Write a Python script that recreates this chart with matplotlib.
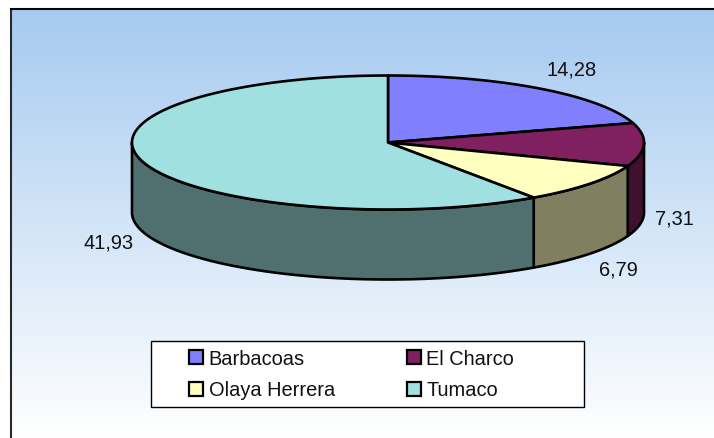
import numpy as np
import matplotlib
matplotlib.use("Agg")
import matplotlib.pyplot as plt
from matplotlib.patches import Polygon, Rectangle

categories = ["Barbacoas", "El Charco", "Olaya Herrera", "Tumaco"]
values = [14.28, 7.31, 6.79, 41.93]
labels = ["14,28", "7,31", "6,79", "41,93"]
top_colors = ["#8080FF", "#802060", "#FFFFC0", "#A0E0E0"]
side_colors = ["#50508F", "#40102F", "#808060", "#507070"]
label_pos = [(571.5, 67.8), (674.5, 216.8), (618.5, 267.8), (108.5, 240.8)]

W, H = 714, 439
plt.rcParams["font.family"] = ["Liberation Sans", "DejaVu Sans"]
fig = plt.figure(figsize=(W / 100, H / 100), dpi=100, facecolor="white")
ax = fig.add_axes([0, 0, 1, 1])
ax.axis("off")

# chart area: vertical gradient running off the right and bottom edges
L, T = 10.8, 10
grad = np.linspace(0, 1, 256).reshape(-1, 1)
cm = matplotlib.colors.LinearSegmentedColormap.from_list("g", ["#A6CAF0", "#FFFFFF"])
ax.imshow(grad, extent=(L, W, H, T), cmap=cm, aspect="auto", zorder=0)
ax.set_xlim(0, W)
ax.set_ylim(H, 0)
ax.plot([L, L], [T, H], color="#2a2a2a", lw=1.5, zorder=1, solid_capstyle="butt")
ax.plot([L - 0.7, W], [T - 0.3, T - 0.3], color="black", lw=1.5, zorder=1, solid_capstyle="butt")

cx, cy, rx, ry, depth = 388, 143.5, 256, 67, 70
lw = 1.9


def pt(t, dy=0):
    return cx + rx * np.sin(t), cy - ry * np.cos(t) + dy


fr = np.cumsum([0] + values) / sum(values) * 2 * np.pi


def draw_wall(t0, t1, color, z):
    ts = np.linspace(t0, t1, 120)
    x, y = pt(ts)
    xb, yb = pt(ts, depth)
    xy = np.r_[np.c_[x, y], np.c_[xb, yb][::-1]]
    ax.add_patch(Polygon(xy, closed=True, fc=color, ec="black", lw=lw, joinstyle="round", zorder=z))


for i in range(len(values)):
    t0, t1 = fr[i], fr[i + 1]
    a, b = max(t0, np.pi / 2), min(t1, 3 * np.pi / 2)
    if b > a:
        draw_wall(a, b, side_colors[i], 2)

for i in range(len(values)):
    ts = np.linspace(fr[i], fr[i + 1], 200)
    x, y = pt(ts)
    xy = np.r_[[[cx, cy]], np.c_[x, y]]
    ax.add_patch(Polygon(xy, closed=True, fc=top_colors[i], ec="black", lw=lw, joinstyle="round", zorder=3))

fs = 14.4
for (x, y), s in zip(label_pos, labels):
    ax.text(x, y, s, fontsize=fs, ha="center", va="center_baseline", color="#111111", zorder=5)

# legend
ax.add_patch(Rectangle((152, 342.8), 433, 65.7, fc="#808080", ec="none", zorder=4))
ax.add_patch(Rectangle((151, 341.9), 433, 65.7, fc="white", ec="black", lw=1.0, zorder=4))
leg_x = [189.3, 407]
leg_y = [358, 389.5]
for i, name in enumerate(categories):
    lx, ly = leg_x[i % 2], leg_y[i // 2]
    ax.add_patch(Rectangle((lx, ly - 7), 14, 14, fc=top_colors[i], ec="black", lw=1.6, zorder=5))
    ax.text(lx + 19.5, ly - 0.7, name, fontsize=fs, ha="left", va="center_baseline", color="#111111", zorder=5)

fig.savefig("out.png", dpi=100, facecolor="white")
